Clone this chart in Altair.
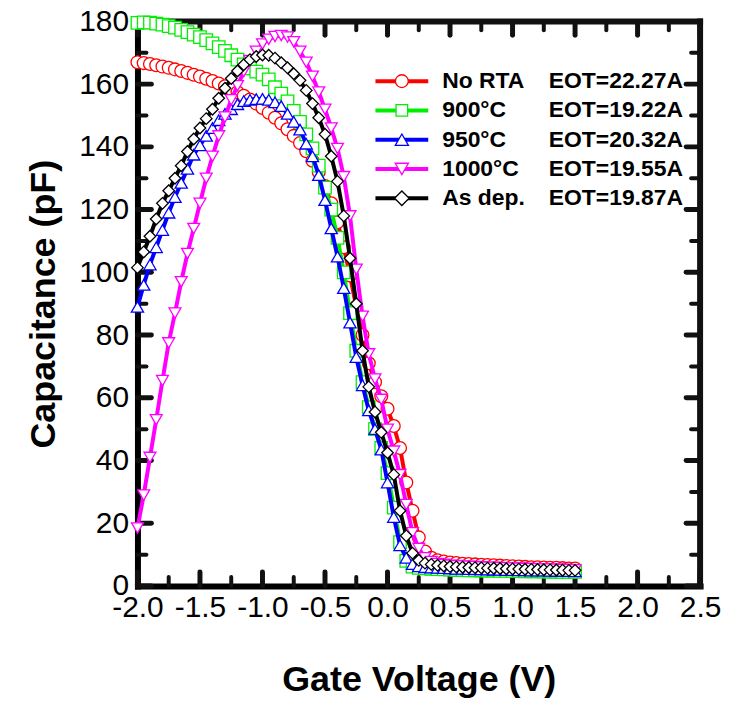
import altair as alt
import pandas as pd

# ---------------- data ----------------
gate_voltage = [-2.0, -1.95, -1.9, -1.85, -1.8, -1.75, -1.7, -1.65, -1.6, -1.55,
                -1.5, -1.45, -1.4, -1.35, -1.3, -1.25, -1.2, -1.15, -1.1, -1.05,
                -1.0, -0.95, -0.9, -0.85, -0.8, -0.75, -0.7, -0.65, -0.6, -0.55,
                -0.5, -0.45, -0.4, -0.35, -0.3, -0.25, -0.2, -0.15, -0.1, -0.05,
                0.0, 0.05, 0.1, 0.15, 0.2, 0.25, 0.3, 0.35, 0.4, 0.45,
                0.5, 0.55, 0.6, 0.65, 0.7, 0.75, 0.8, 0.85, 0.9, 0.95,
                1.0, 1.05, 1.1, 1.15, 1.2, 1.25, 1.3, 1.35, 1.4, 1.45, 1.5]

cap_no_rta = [167.0, 166.7, 166.4, 166.0, 165.6, 165.2, 164.7, 164.2, 163.6, 163.0,
              162.4, 161.7, 161.0, 160.2, 159.3, 158.4, 157.4, 156.3, 155.1, 153.8,
              152.4, 150.9, 149.3, 147.5, 145.6, 143.5, 141.2, 138.6, 135.6, 132.0,
              127.5, 122.0, 116.0, 108.0, 99.0, 89.0, 80.0, 71.0, 65.0, 60.5,
              56.5, 51.0, 44.0, 33.0, 24.0, 15.5, 11.0, 9.0, 8.2, 7.8,
              7.5, 7.3, 7.1, 7.0, 6.9, 6.8, 6.7, 6.6, 6.5, 6.4,
              6.3, 6.2, 6.1, 6.0, 6.0, 5.9, 5.8, 5.8, 5.7, 5.6, 5.6]

cap_900 = [179.5, 179.7, 179.6, 179.3, 179.0, 178.5, 178.0, 177.3, 176.6, 175.8,
           175.0, 174.0, 173.0, 171.8, 170.6, 169.2, 167.8, 166.3, 165.0, 164.0,
           163.0, 161.5, 159.0, 157.0, 154.5, 151.5, 148.0, 144.0, 139.5, 134.0,
           127.0, 120.0, 111.0, 100.0, 87.0, 75.0, 65.0, 57.0, 50.0, 44.0,
           36.0, 25.0, 14.0, 8.0, 6.2, 5.8, 5.6, 5.5, 5.4, 5.3,
           5.2, 5.1, 5.1, 5.0, 5.0, 4.95, 4.9, 4.9, 4.85, 4.8,
           4.8, 4.75, 4.7, 4.7, 4.65, 4.6, 4.6, 4.55, 4.5, 4.5, 4.5]

cap_950 = [89.0, 96.0, 102.5, 108.0, 113.5, 119.0, 124.0, 128.5, 133.0, 137.5,
           140.5, 143.5, 146.0, 148.5, 150.5, 152.0, 153.6, 154.6, 155.0, 155.2,
           155.3, 155.0, 154.2, 153.0, 150.5, 148.0, 145.5, 141.0, 137.0, 131.0,
           123.0, 114.0, 105.0, 95.0, 84.0, 73.0, 64.0, 56.0, 50.0, 43.5,
           33.0, 22.0, 13.0, 9.0, 7.0, 6.3, 6.0, 5.9, 5.8, 5.7,
           5.6, 5.5, 5.45, 5.4, 5.35, 5.3, 5.25, 5.2, 5.15, 5.1,
           5.05, 5.0, 5.0, 4.95, 4.9, 4.9, 4.85, 4.8, 4.8, 4.75, 4.7]

cap_1000 = [18.5, 29.0, 41.0, 53.0, 65.5, 77.5, 87.0, 97.0, 106.0, 114.0,
            122.0, 130.0, 137.0, 143.5, 149.5, 155.0, 159.5, 164.0, 167.5, 170.5,
            172.8, 174.3, 175.2, 175.5, 175.0, 173.5, 170.5, 167.0, 162.5, 157.5,
            152.0, 146.0, 139.5, 130.5, 118.0, 101.0, 86.0, 74.0, 66.0, 59.5,
            50.0, 43.0, 35.5, 26.0, 17.0, 12.0, 9.0, 7.8, 7.2, 6.9,
            6.6, 6.5, 6.4, 6.3, 6.2, 6.1, 6.0, 5.95, 5.9, 5.8,
            5.75, 5.7, 5.6, 5.55, 5.5, 5.45, 5.4, 5.35, 5.3, 5.25, 5.2]

cap_as_dep = [101.5, 106.5, 111.5, 117.0, 122.0, 126.0, 130.0, 134.0, 138.5, 142.5,
              146.0, 149.0, 152.0, 155.5, 158.7, 161.8, 164.2, 166.2, 167.8, 168.8,
              169.3, 169.2, 168.3, 166.8, 165.2, 163.3, 161.2, 158.0, 153.8, 149.3,
              144.0, 137.0, 129.0, 118.0, 104.5, 90.0, 75.0, 63.5, 55.5, 49.0,
              42.5, 35.5, 24.0, 16.0, 10.5, 8.2, 7.3, 6.9, 6.6, 6.4,
              6.2, 6.1, 6.0, 5.9, 5.85, 5.8, 5.7, 5.65, 5.6, 5.5,
              5.45, 5.4, 5.35, 5.3, 5.25, 5.2, 5.15, 5.1, 5.05, 5.0, 5.0]

series_names = ["No RTA", "900°C", "950°C", "1000°C", "As dep."]
eot_labels = ["EOT=22.27A", "EOT=19.22A", "EOT=20.32A", "EOT=19.55A", "EOT=19.87A"]
series_values = [cap_no_rta, cap_900, cap_950, cap_1000, cap_as_dep]

x_ticks = [-2.0, -1.5, -1.0, -0.5, 0.0, 0.5, 1.0, 1.5, 2.0, 2.5]
x_minor = [-1.75, -1.25, -0.75, -0.25, 0.25, 0.75, 1.25, 1.75, 2.25]
y_ticks = [0, 20, 40, 60, 80, 100, 120, 140, 160, 180]
y_minor = [10, 30, 50, 70, 90, 110, 130, 150, 170]

# ---------------- styles ----------------
colors = ["#ff0000", "#00ee00", "#0000ff", "#ff00ff", "#000000"]
shapes = ["circle", "square", "triangle-up", "triangle-down", "diamond"]
sizes = [165, 135, 175, 175, 215]

W, H = 565, 567
X0, X1, Y0, Y1 = -2.0, 2.5, 0.0, 180.0
FONT = "Liberation Sans"

rows = []
for name, vals in zip(series_names, series_values):
    for v, c in zip(gate_voltage, vals):
        rows.append({"series": name, "V": v, "C": c})
df = pd.DataFrame(rows)

xs = alt.Scale(domain=[X0, X1], nice=False, zero=False)
ys = alt.Scale(domain=[Y0, Y1], nice=False, zero=False)
color_scale = alt.Scale(domain=series_names, range=colors)
shape_scale = alt.Scale(domain=series_names, range=shapes)
size_scale = alt.Scale(domain=series_names, range=sizes)

x_label_expr = "replace(format(datum.value, '.1f'), '\u2212', '-')"

x_axis = alt.Axis(orient="bottom", values=x_ticks, labelExpr=x_label_expr,
                  labelFont=FONT, labelFontSize=30, labelColor="black",
                  labelPadding=7, labelFlush=False, labelOverlap=False,
                  ticks=False, tickSize=0, domain=True, domainWidth=6,
                  domainColor="black", domainCap="square", grid=False,
                  title="Gate Voltage (V)", titleFont=FONT, titleFontSize=36,
                  titleFontWeight="bold", titleColor="black", titlePadding=40)
y_axis = alt.Axis(orient="left", values=y_ticks, format="d",
                  labelFont=FONT, labelFontSize=30, labelColor="black",
                  labelPadding=9, labelFlush=False, labelOverlap=False,
                  ticks=False, tickSize=0, domain=True, domainWidth=6,
                  domainColor="black", domainCap="square", grid=False,
                  title="Capacitance (pF)", titleFont=FONT, titleFontSize=36,
                  titleFontWeight="bold", titleColor="black", titlePadding=16)

# ---- tick segments and frame as grouped line segments in data space ----
MAJ_PX, MIN_PX = 14, 9
dy_maj, dy_min = MAJ_PX * (Y1 - Y0) / H, MIN_PX * (Y1 - Y0) / H
dx_maj, dx_min = MAJ_PX * (X1 - X0) / W, MIN_PX * (X1 - X0) / W

seg_rows = []


def add_seg(kind, key, xa, ya, xb, yb):
    seg_rows.append({"kind": kind, "seg": key, "order": 0, "sx": xa, "sy": ya})
    seg_rows.append({"kind": kind, "seg": key, "order": 1, "sx": xb, "sy": yb})


for v in x_ticks:
    add_seg("major", f"xb{v}", v, Y0, v, Y0 + dy_maj)
    add_seg("major", f"xt{v}", v, Y1, v, Y1 - dy_maj)
for v in x_minor:
    add_seg("minor", f"xbm{v}", v, Y0, v, Y0 + dy_min)
    add_seg("minor", f"xtm{v}", v, Y1, v, Y1 - dy_min)
for v in y_ticks:
    add_seg("major", f"yl{v}", X0, v, X0 + dx_maj, v)
    add_seg("major", f"yr{v}", X1, v, X1 - dx_maj, v)
for v in y_minor:
    add_seg("minor", f"ylm{v}", X0, v, X0 + dx_min, v)
    add_seg("minor", f"yrm{v}", X1, v, X1 - dx_min, v)
add_seg("frame", "top", X0, Y1, X1, Y1)
add_seg("frame", "right", X1, Y0, X1, Y1)
seg_df = pd.DataFrame(seg_rows)

layers = []
for kind, width in [("frame", 6), ("major", 5), ("minor", 4)]:
    layers.append(
        alt.Chart(seg_df).transform_filter(alt.datum.kind == kind).mark_line(
            strokeWidth=width, color="#111111", strokeCap="round" if kind != "frame" else "square"
        ).encode(
            x=alt.X("sx:Q", scale=xs, axis=x_axis),
            y=alt.Y("sy:Q", scale=ys, axis=y_axis),
            detail="seg:N",
            order="order:Q",
        )
    )

base = alt.Chart(df)
for name in series_names:
    line = base.transform_filter(alt.datum.series == name).mark_line(
        strokeWidth=4, opacity=1
    ).encode(
        x=alt.X("V:Q", scale=xs, axis=x_axis),
        y=alt.Y("C:Q", scale=ys, axis=y_axis),
        color=alt.Color("series:N", scale=color_scale, legend=None),
    )
    pts = base.transform_filter(alt.datum.series == name).mark_point(
        fill="white", fillOpacity=1, opacity=1, strokeWidth=1.3
    ).encode(
        x=alt.X("V:Q", scale=xs, axis=x_axis),
        y=alt.Y("C:Q", scale=ys, axis=y_axis),
        color=alt.Color("series:N", scale=color_scale, legend=None),
        shape=alt.Shape("series:N", scale=shape_scale, legend=None),
        size=alt.Size("series:N", scale=size_scale, legend=None),
    )
    layers += [line, pts]

# legend drawn inside the plot
for i, (name, eot) in enumerate(zip(series_names, eot_labels)):
    ly = 60 + 29.4 * i
    lc = alt.Chart(pd.DataFrame({"series": [name], "eot": [eot]}))
    layers.append(lc.mark_rule(strokeWidth=4, color=colors[i]).encode(
        x=alt.value(239), x2=alt.value(292), y=alt.value(ly)))
    layers.append(lc.mark_point(shape=shapes[i], size=sizes[i], fill="white",
                                fillOpacity=1, opacity=1, stroke=colors[i],
                                strokeWidth=1.3).encode(
        x=alt.value(265.5), y=alt.value(ly)))
    layers.append(lc.mark_text(align="left", baseline="middle", font=FONT,
                               fontSize=23, fontWeight="bold", color="black").encode(
        x=alt.value(306), y=alt.value(ly), text="series:N"))
    layers.append(lc.mark_text(align="left", baseline="middle", font=FONT,
                               fontSize=23, fontWeight="bold", color="black").encode(
        x=alt.value(413), y=alt.value(ly), text="eot:N"))

chart = alt.layer(*layers).properties(
    width=W, height=H,
    autosize=alt.AutoSizeParams(type="none"),
    padding={"left": 130, "top": 12, "right": 22, "bottom": 111},
    background="white",
).configure_view(strokeWidth=0)

chart.save("out.html", embed_options={"renderer": "svg", "actions": False})
